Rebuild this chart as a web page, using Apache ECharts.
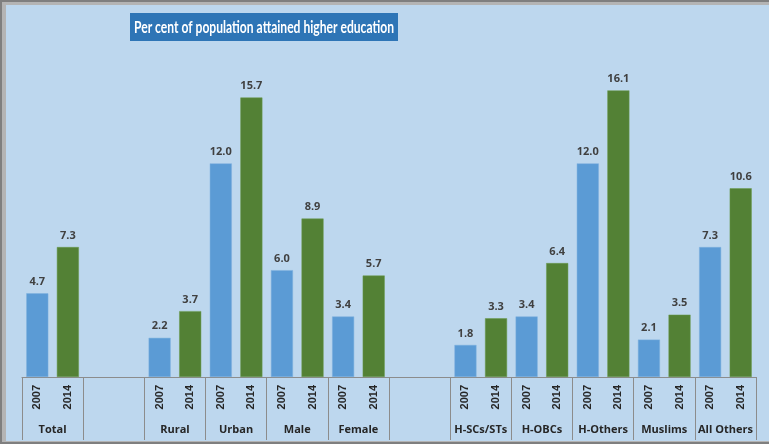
<!DOCTYPE html>
<html>
<head>
<meta charset="utf-8">
<script src="https://cdn.jsdelivr.net/npm/echarts@6/dist/echarts.min.js"></script>
<style>
html,body{margin:0;padding:0;background:#fff;}
#c{width:769px;height:444px;}
</style>
</head>
<body>
<div id="c"></div>
<script>
var groups = ['Total', '', 'Rural', 'Urban', 'Male', 'Female', '', 'H-SCs/STs', 'H-OBCs', 'H-Others', 'Muslims', 'All Others'];
var years = ['2007', '2014'];
var v2007 = [4.7, null, 2.2, 12.0, 6.0, 3.4, null, 1.8, 3.4, 12.0, 2.1, 7.3];
var v2014 = [7.3, null, 3.7, 15.7, 8.9, 5.7, null, 3.3, 6.4, 16.1, 3.5, 10.6];
var titleText = 'Per cent of population attained higher education';

var slotLabels = [], d07 = [], d14 = [];
groups.forEach(function (g, i) {
  var blank = (v2007[i] === null);
  slotLabels.push(blank ? '' : years[0]);
  slotLabels.push(blank ? ' ' : years[1]);
  d07.push(v2007[i] === null ? '-' : v2007[i]);
  d07.push('-');
  d14.push('-');
  d14.push(v2014[i] === null ? '-' : v2014[i]);
});

// fit title text horizontally into its box (narrow Calibri-like look)
var titleFont = 'bold 17px Lato';
var ctx = document.createElement('canvas').getContext('2d');
ctx.font = titleFont;
var tw = ctx.measureText(titleText).width;
var boxX = 130, boxY = 13, boxW = 268, boxH = 28;
var sx = Math.min(1, (boxW - 8) / tw);

var chart = echarts.init(document.getElementById('c'), null, {renderer: 'canvas'});
var lbl = {
  show: true, position: 'top', distance: 6,
  fontFamily: 'Open Sans', fontWeight: 'bold', fontSize: 11, color: '#404040',
  formatter: function (p) { return Number(p.value).toFixed(1); }
};
chart.setOption({
  backgroundColor: '#ffffff',
  graphic: [
    {type: 'rect', z: -10, shape: {x: 0, y: 0, width: 769, height: 444}, style: {fill: '#7f7f7f'}},
    {type: 'rect', z: -9, shape: {x: 2, y: 2, width: 767, height: 440}, style: {fill: '#b4b4b4'}},
    {type: 'rect', z: -8, shape: {x: 6, y: 5, width: 763, height: 436}, style: {fill: '#bdd7ee'}},
    {type: 'rect', z: 5, shape: {x: boxX, y: boxY, width: boxW, height: boxH}, style: {fill: '#2e75b6'}},
    {type: 'text', z: 6, x: boxX + boxW / 2, y: boxY + boxH / 2 + 1, scaleX: sx,
     style: {text: titleText, font: titleFont, fill: '#ffffff', align: 'center', verticalAlign: 'middle'}}
  ],
  grid: {left: 22, right: 13, top: 50, bottom: 67},
  xAxis: [{
    type: 'category', data: slotLabels, position: 'bottom',
    axisLine: {show: true, lineStyle: {color: '#8c8c8c', width: 1}},
    axisTick: {show: false},
    axisLabel: {
      interval: 0, rotate: 90, margin: 8,
      fontFamily: 'Liberation Sans', fontWeight: 'bold', fontSize: 11, color: '#262626'
    }
  }, {
    type: 'category', data: groups, position: 'bottom', offset: 0,
    axisLine: {show: false},
    axisTick: {show: true, interval: 0, length: 63, lineStyle: {color: '#8c8c8c'}},
    axisLabel: {
      interval: 0, margin: 47,
      fontFamily: 'Open Sans', fontWeight: 'bold', fontSize: 11, color: '#262626'
    }
  }],
  yAxis: {type: 'value', min: 0, max: 18.37, show: false, splitLine: {show: false}},
  series: [{
    name: '2007', type: 'bar', stack: 's', xAxisIndex: 0, barWidth: '72%',
    data: d07, itemStyle: {color: '#5b9bd5', borderColor: '#7fb0df', borderWidth: 0.5},
    label: lbl
  }, {
    name: '2014', type: 'bar', stack: 's', xAxisIndex: 0, barWidth: '72%',
    data: d14, itemStyle: {color: '#538135', borderColor: '#6a9a4c', borderWidth: 0.5},
    label: lbl
  }]
});
</script>
</body>
</html>
